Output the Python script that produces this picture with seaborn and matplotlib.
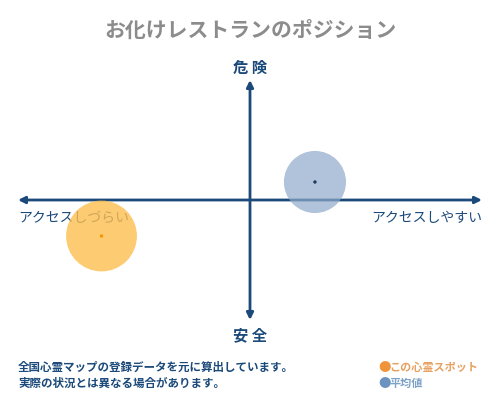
import matplotlib
matplotlib.use("Agg")
import matplotlib.pyplot as plt
import seaborn as sns
import pandas as pd

# ── Data ───────────────────────────────────────────────────────────────────────
TITLE      = "お化けレストランのポジション"
SERIES     = ["この心霊スポット", "平均値"]
ACCESS     = [-3.2, 1.4]      # x: アクセスしづらい(-) ↔ アクセスしやすい(+)
DANGER     = [-1.5, 0.75]     # y: 安全(-) ↔ 危険(+)
SIZES      = [2600, 2000]
COLORS     = ["#FDBE4F", "#8FAACB"]
ALPHAS     = [0.8, 0.7]
DOT_COLORS = ["#F39800", "#1B3A5C"]
NOTES      = ["全国心霊マップの登録データを元に算出しています。",
              "実際の状況とは異なる場合があります。"]

NAVY = "#1B4A7A"

sns.set_theme(style="white")
plt.rcParams["font.family"] = ["Noto Sans CJK JP", "DejaVu Sans"]

df = pd.DataFrame({"name": SERIES, "x": ACCESS, "y": DANGER})

fig = plt.figure(figsize=(5, 4), dpi=100)
# axes placed so that x spans px 18..482, y spans px 80..320
ax = fig.add_axes([18 / 500, 80 / 400, 464 / 500, 240 / 400])
ax.set_xlim(-5, 5)
ax.set_ylim(-5, 5)
ax.axis("off")

# axis arrows
ax.annotate("", xy=(-5, 0), xytext=(5, 0),
            arrowprops=dict(arrowstyle="<|-|>", color=NAVY, lw=2,
                            mutation_scale=10, shrinkA=0, shrinkB=0))
ax.annotate("", xy=(0, 5), xytext=(0, -5),
            arrowprops=dict(arrowstyle="<|-|>", color=NAVY, lw=2,
                            mutation_scale=10, shrinkA=0, shrinkB=0))

# axis labels
ax.text(-5, -0.45, "アクセスしづらい", ha="left", va="top", fontsize=10,
        color=NAVY, zorder=1)
ax.text(5, -0.45, "アクセスしやすい", ha="right", va="top", fontsize=10,
        color=NAVY, zorder=1)
fig.text(0.5, 1 - 68 / 400, "危 険", ha="center", va="center", fontsize=11,
         color=NAVY, fontweight="bold")
fig.text(0.5, 1 - 335 / 400, "安 全", ha="center", va="center", fontsize=11,
         color=NAVY, fontweight="bold")

# bubbles
for i, row in df.iterrows():
    sns.scatterplot(x=[row.x], y=[row.y], s=SIZES[i], color=COLORS[i],
                    alpha=ALPHAS[i], edgecolor="none", ax=ax, zorder=3,
                    legend=False)
    sns.scatterplot(x=[row.x], y=[row.y], s=6, color=DOT_COLORS[i],
                    edgecolor="none", ax=ax, zorder=4, legend=False)

# title
fig.text(0.5, 1 - 30 / 400, TITLE, ha="center", va="center", fontsize=15,
         color="#8C8C8C", fontweight="bold")

# notes
for k, note in enumerate(NOTES):
    fig.text(18 / 500, 1 - (367 + 16 * k) / 400, note, ha="left",
             va="center", fontsize=8.3, color=NAVY, fontweight="bold")

# legend
leg_y = [367, 383]
leg_txt_colors = ["#E8A060", "#7FA3C8"]
leg_dot_colors = ["#F0943A", "#6A93C0"]
for k, name in enumerate(SERIES):
    fig.text(378 / 500, 1 - leg_y[k] / 400, "●", ha="left", va="center",
             fontsize=9, color=leg_dot_colors[k])
    fig.text(389 / 500, 1 - leg_y[k] / 400, name, ha="left", va="center",
             fontsize=8, color=leg_txt_colors[k], fontweight="bold")

fig.savefig("out.png", dpi=100, facecolor="white")
